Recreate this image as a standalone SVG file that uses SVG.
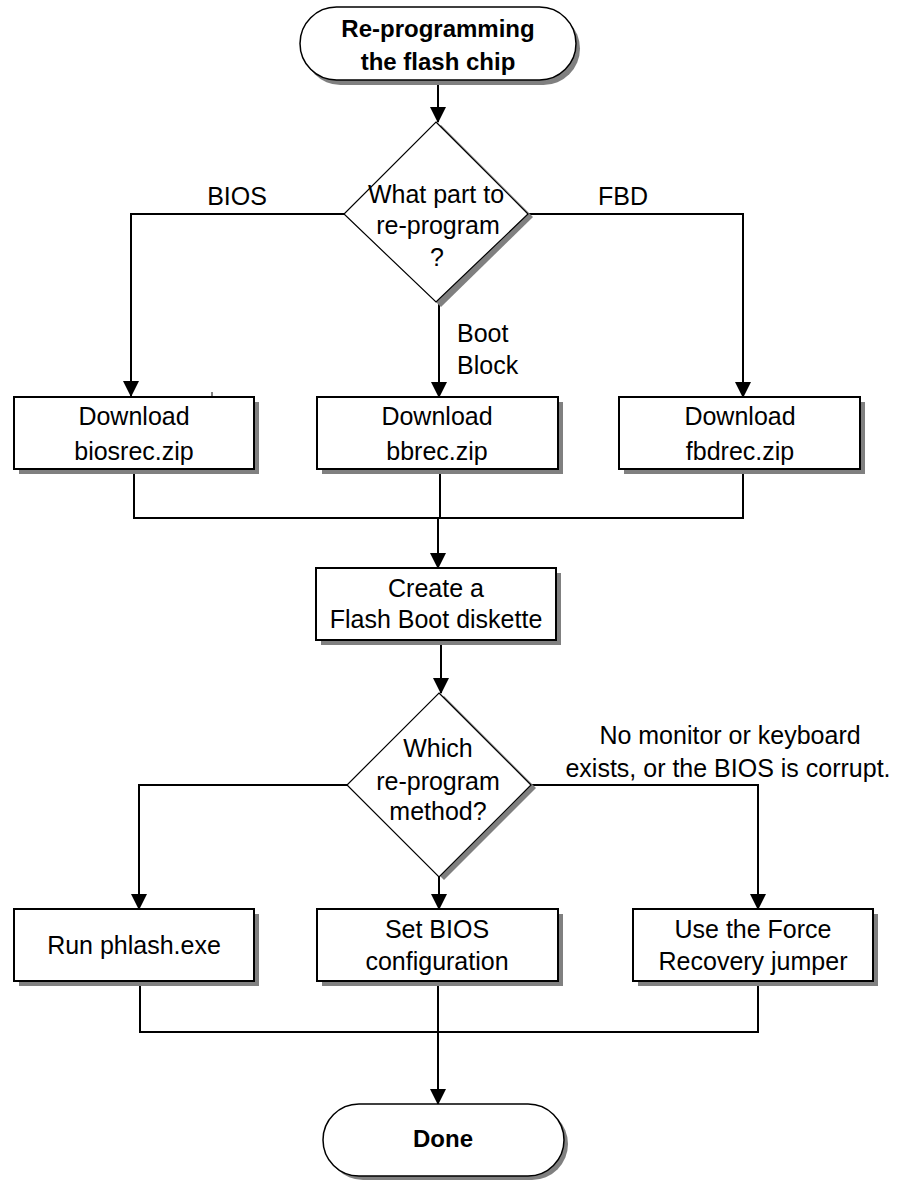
<svg xmlns="http://www.w3.org/2000/svg" width="898" height="1182" viewBox="0 0 898 1182">
<defs>
<style>
.t{font-family:"Liberation Sans",Arial,sans-serif;font-size:25px;fill:#000;text-anchor:middle}
.b{font-weight:bold;font-size:24px}
.l{text-anchor:start}
.box{fill:#fff;stroke:#000;stroke-width:2}
.dia{fill:#fff;stroke:#000;stroke-width:1.2}
.pill{fill:#fff;stroke:#000;stroke-width:1.5}
.sh{fill:#808080;stroke:none}
.c{fill:none;stroke:#000;stroke-width:2}
</style>
<marker id="ah" markerUnits="userSpaceOnUse" markerWidth="16" markerHeight="16" viewBox="0 0 16 16" refX="15" refY="8" orient="auto">
<path d="M0,0 L16,8 L0,16 Z" fill="#000"/>
</marker>
</defs>
<rect width="898" height="1182" fill="#fff"/>

<g id="connectors">
<line class="c" x1="438" y1="80" x2="438" y2="122" marker-end="url(#ah)"/>
<polyline class="c" points="344,214 131,214 131,396" marker-end="url(#ah)"/>
<polyline class="c" points="528,214 743,214 743,397" marker-end="url(#ah)"/>
<line class="c" x1="439" y1="302" x2="439" y2="397" marker-end="url(#ah)"/>
<line x1="212" y1="392" x2="212" y2="396" stroke="#000" stroke-width="1"/>
<polyline class="c" points="134,469 134,518 743,518 743,469"/>
<line class="c" x1="440" y1="469" x2="440" y2="518"/>
<line class="c" x1="438" y1="518" x2="438" y2="568" marker-end="url(#ah)"/>
<line class="c" x1="441" y1="640" x2="441" y2="693" marker-end="url(#ah)"/>
<polyline class="c" points="347,785 139,785 139,909" marker-end="url(#ah)"/>
<polyline class="c" points="531,785 758,785 758,909" marker-end="url(#ah)"/>
<line class="c" x1="439" y1="877" x2="439" y2="909" marker-end="url(#ah)"/>
<polyline class="c" points="140,981 140,1032 758,1032 758,981"/>
<line class="c" x1="438" y1="981" x2="438" y2="1104" marker-end="url(#ah)"/>
</g>

<g id="labels">
<text class="t" x="237" y="205">BIOS</text>
<text class="t" x="623" y="205">FBD</text>
<text class="t l" x="457" y="342">Boot</text>
<text class="t l" x="457" y="374">Block</text>
<text class="t" x="730" y="744">No monitor or keyboard</text>
<text class="t" x="728" y="777">exists, or the BIOS is corrupt.</text>
</g>

<g id="start">
<rect class="sh" x="304" y="12" width="276" height="73" rx="36.5"/>
<rect class="pill" x="300" y="7" width="276" height="73" rx="36.5"/>
<text class="t b" x="438" y="37">Re-programming</text>
<text class="t b" x="438" y="70">the flash chip</text>
</g>

<g id="decision1">
<polygon class="sh" points="441,125 533,217 441,307 349,217"/>
<polygon class="dia" points="436,122 528,214 436,302 344,214"/>
<text class="t" x="436" y="203">What part to</text>
<text class="t" x="438" y="234">re-program</text>
<text class="t" x="437" y="266">?</text>
</g>

<g id="biosrec">
<rect class="sh" x="19" y="402" width="240" height="72"/>
<rect class="box" x="14" y="397" width="240" height="72"/>
<text class="t" x="134" y="425">Download</text>
<text class="t" x="134" y="460">biosrec.zip</text>
</g>

<g id="bbrec">
<rect class="sh" x="322" y="402" width="241" height="72"/>
<rect class="box" x="317" y="397" width="241" height="72"/>
<text class="t" x="437" y="425">Download</text>
<text class="t" x="437" y="460">bbrec.zip</text>
</g>

<g id="fbdrec">
<rect class="sh" x="624" y="402" width="241" height="72"/>
<rect class="box" x="619" y="397" width="241" height="72"/>
<text class="t" x="740" y="425">Download</text>
<text class="t" x="740" y="460">fbdrec.zip</text>
</g>

<g id="diskette">
<rect class="sh" x="321" y="573" width="240" height="72"/>
<rect class="box" x="316" y="568" width="240" height="72"/>
<text class="t" x="436" y="597">Create a</text>
<text class="t" x="436" y="628">Flash Boot diskette</text>
</g>

<g id="decision2">
<polygon class="sh" points="444,696 536,788 444,880 352,788"/>
<polygon class="dia" points="439,693 531,785 439,877 347,785"/>
<text class="t" x="438" y="757">Which</text>
<text class="t" x="438" y="790">re-program</text>
<text class="t" x="438" y="820">method?</text>
</g>

<g id="phlash">
<rect class="sh" x="19" y="914" width="240" height="72"/>
<rect class="box" x="14" y="909" width="240" height="72"/>
<text class="t" x="134" y="954">Run phlash.exe</text>
</g>

<g id="biosconfig">
<rect class="sh" x="322" y="914" width="241" height="72"/>
<rect class="box" x="317" y="909" width="241" height="72"/>
<text class="t" x="437" y="938">Set BIOS</text>
<text class="t" x="437" y="970">configuration</text>
</g>

<g id="jumper">
<rect class="sh" x="638" y="914" width="240" height="72"/>
<rect class="box" x="633" y="909" width="240" height="72"/>
<text class="t" x="753" y="938">Use the Force</text>
<text class="t" x="753" y="970">Recovery jumper</text>
</g>

<g id="done">
<rect class="sh" x="327" y="1108" width="241" height="72" rx="36"/>
<rect class="pill" x="323" y="1104" width="241" height="72" rx="36"/>
<text class="t b" x="443" y="1147">Done</text>
</g>
</svg>
